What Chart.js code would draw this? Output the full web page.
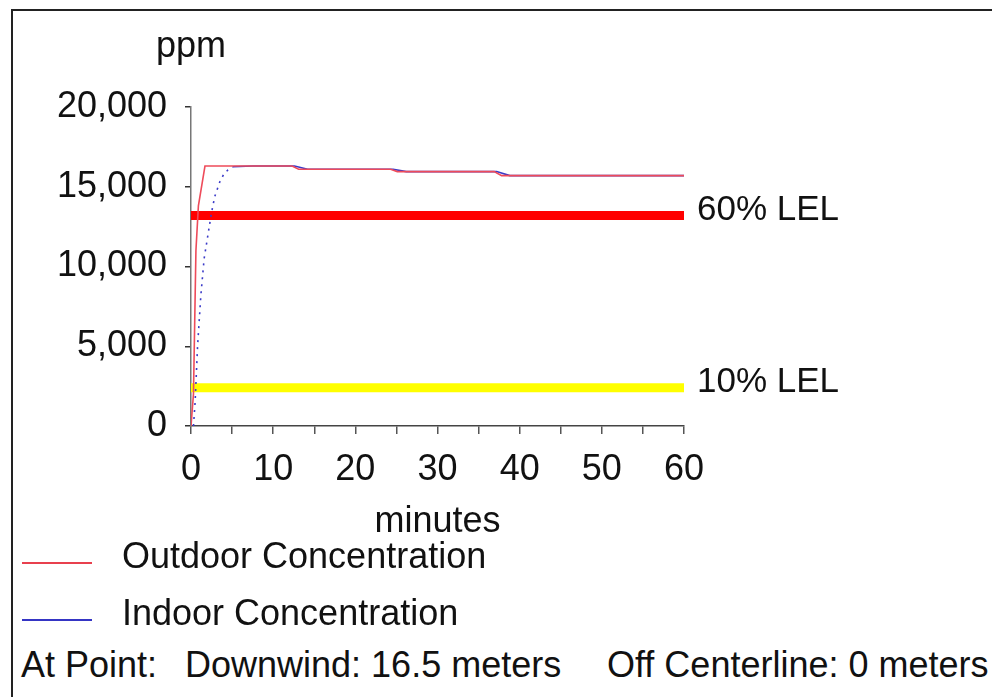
<!DOCTYPE html>
<html>
<head>
<meta charset="utf-8">
<script src="https://cdn.jsdelivr.net/npm/chart.js@4"></script>
<style>
  html, body { margin: 0; padding: 0; background: #fff; }
  #pagina { width: 992px; height: 697px; position: relative; overflow: hidden; font-family: "Liberation Sans", Arial, sans-serif; color: #111; }
  .frame { position: absolute; left: 11px; top: 9px; right: 0; bottom: 0; border-top: 2px solid #222; border-left: 2px solid #222; }
  #wrap { position: absolute; left: 0; top: 0; width: 992px; height: 545px; }
  .leg { position: absolute; left: 0; width: 600px; height: 44px; white-space: pre; font-size: 36px; line-height: 44px; }
  .leg .swatch { position: absolute; left: 22px; width: 70px; height: 2px; }
  .leg span { position: absolute; left: 122px; top: 0; }
  .foot { position: absolute; top: 643px; white-space: pre; font-size: 36px; line-height: 44px; }
</style>
</head>
<body>
<div id="pagina">
  <div class="frame"></div>
  <div id="wrap"><canvas id="graf"></canvas></div>

  <div class="leg" style="top:534px;"><div class="swatch" style="top:28px;background:#e8404e;"></div><span>Outdoor Concentration</span></div>
  <div class="leg" style="top:591px;"><div class="swatch" style="top:28px;background:#3535c4;"></div><span>Indoor Concentration</span></div>
  <div class="foot" style="left:21px;">At Point:</div>
  <div class="foot" style="left:185px;">Downwind: 16.5 meters</div>
  <div class="foot" style="left:607px;">Off Centerline: 0 meters</div>
</div>

<script>
/* ---- dados ---- */
const minutosExterno = [0, 0.3, 0.6, 0.9, 1.7, 12.3, 13.1, 24.3, 25.1, 36.9, 37.8, 60];
const ppmExterno     = [0, 2000, 11000, 13800, 16300, 16300, 16100, 16100, 15950, 15950, 15700, 15700];

const minutosInterno = [0.3, 0.5, 0.8, 1.2, 1.6, 2.1, 2.5, 2.9, 3.5, 4.0, 4.5, 5.1, 7.5, 12.6, 14.2, 24.6, 26.2, 37.2, 38.8, 60];
const ppmInterno     = [0, 1500, 5000, 8200, 10500, 12100, 13400, 14400, 15300, 15800, 16050, 16250, 16300, 16300, 16100, 16100, 15950, 15950, 15700, 15700];

const nivelLEL  = [13200, 2400];
const rotuloLEL = ["60% LEL", "10% LEL"];
const corLEL    = ["#ff0000", "#ffff00"];

const eixoX = { min: 0, max: 60, passo: 5, rotulo: 10 };
const eixoY = { min: 0, max: 20000, passo: 5000 };

const fonte = "'Liberation Sans', Arial, sans-serif";

const pontos = (xs, ys) => xs.map((x, i) => ({ x, y: ys[i] }));

/* ---- textos extras: ppm e rótulos LEL ---- */
const textosPlugin = {
  id: "textos",
  afterDraw(chart) {
    const { ctx, chartArea, scales } = chart;
    ctx.save();
    ctx.fillStyle = "#111";
    ctx.font = "36px " + fonte;
    ctx.textAlign = "center";
    ctx.textBaseline = "alphabetic";
    ctx.fillText("ppm", chartArea.left, 57);

    ctx.font = "35px " + fonte;
    ctx.textAlign = "left";
    ctx.textBaseline = "middle";
    nivelLEL.forEach((v, i) => {
      ctx.fillText(rotuloLEL[i], scales.x.right + 13, scales.y.getPixelForValue(v) - 5);
    });
    ctx.restore();
  }
};

const datasets = [
  {
    label: "Outdoor Concentration",
    data: pontos(minutosExterno, ppmExterno),
    borderColor: "#ee4b5a",
    borderWidth: 1.6,
    order: 0
  },
  {
    label: "Indoor Concentration",
    data: pontos(minutosInterno, ppmInterno),
    borderColor: "#3a3ac8",
    borderWidth: 1.6,
    order: 1,
    segment: {
      borderDash: c => (c.p1.parsed.y - c.p0.parsed.y > 150 ? [2, 5] : undefined)
    }
  }
];

nivelLEL.forEach((v, i) => {
  datasets.push({
    label: rotuloLEL[i],
    data: [{ x: eixoX.min, y: v }, { x: eixoX.max, y: v }],
    borderColor: corLEL[i],
    borderWidth: 9,
    borderCapStyle: "butt",
    order: 2 + i
  });
});

new Chart(document.getElementById("graf"), {
  type: "line",
  data: { datasets },
  options: {
    responsive: true,
    maintainAspectRatio: false,
    animation: false,
    events: [],
    layout: { padding: { left: 0, top: 107, right: 308, bottom: 0 } },
    elements: {
      point: { radius: 0 },
      line: { tension: 0 }
    },
    plugins: {
      legend: { display: false },
      tooltip: { enabled: false }
    },
    scales: {
      x: {
        type: "linear",
        min: eixoX.min,
        max: eixoX.max,
        afterFit: s => { s.height = 545 - 426; },
        border: { color: "#444", width: 1.5 },
        grid: { drawOnChartArea: false, drawTicks: true, tickLength: 8, color: "#555", lineWidth: 1.5 },
        ticks: {
          stepSize: eixoX.passo,
          padding: 14,
          color: "#111",
          font: { family: fonte, size: 36 },
          maxRotation: 0,
          autoSkip: false,
          callback: v => (v % eixoX.rotulo === 0 ? v : "")
        },
        title: {
          display: true,
          text: "minutes",
          color: "#111",
          font: { family: fonte, size: 36, lineHeight: 1.2 },
          padding: { top: 0, bottom: 1 }
        }
      },
      y: {
        min: eixoY.min,
        max: eixoY.max,
        afterFit: s => { s.width = 191; },
        border: { color: "#777", width: 1.5 },
        grid: { drawOnChartArea: false, drawTicks: true, tickLength: 6, color: "#333", lineWidth: 1.5 },
        ticks: {
          stepSize: eixoY.passo,
          padding: 18,
          color: "#111",
          font: { family: fonte, size: 36 },
          callback: v => v.toLocaleString("en-US")
        }
      }
    }
  },
  plugins: [textosPlugin]
});
</script>
</body>
</html>
